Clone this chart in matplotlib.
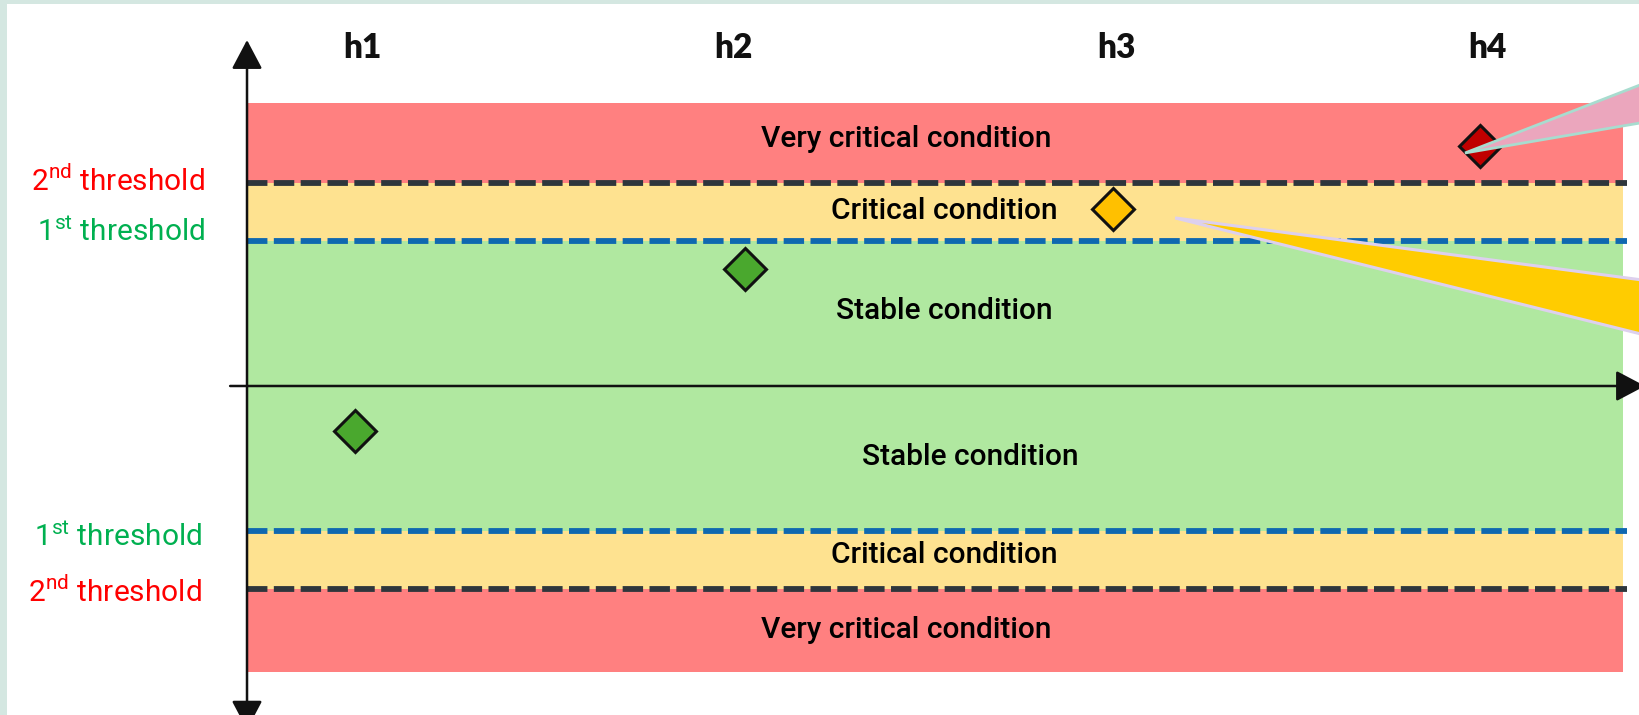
import matplotlib
matplotlib.use("Agg")
import matplotlib.pyplot as plt
from matplotlib.patches import Polygon, Rectangle

# hours along the time axis
hours = ["h1", "h2", "h3", "h4"]
hour_label_x = [1.02, 2.01, 3.03, 4.02]

# observed deviation at each hour
obs_x = [1.0, 2.04, 3.02, 4.0]
obs_y = [-0.31, 0.81, 1.22, 1.655]
obs_colors = ["#4aa82e", "#4aa82e", "#ffc000", "#c00000"]

# thresholds (symmetric) and band limits
first_thr = 1.0
second_thr = 1.4
band_top = 1.95
band_bottom = -1.97

band_names = ["Very critical condition", "Critical condition", "Stable condition",
              "Stable condition", "Critical condition", "Very critical condition"]
band_label_x = [2.47, 2.57, 2.57, 2.64, 2.57, 2.47]
band_label_y = [1.70, 1.21, 0.52, -0.49, -1.166, -1.683]

# callout tails coming from outside the picture: tip, upper base, lower base
pink_tail = [(3.96, 1.607), (4.59, 2.24), (4.59, 1.886)]
yellow_tail = [(3.187, 1.159), (4.59, 0.677), (4.59, 0.255)]

RED = "#ff8080"
YELLOW = "#fee290"
GREEN = "#b0e8a0"

plt.rcParams["mathtext.fontset"] = "custom"
plt.rcParams["mathtext.rm"] = "Roboto"

fig = plt.figure(figsize=(16.39, 7.15), dpi=100)
ax = fig.add_axes([0, 0, 1, 1])
ax.set_xlim(0.0533, 4.424)
ax.set_ylim(-2.269, 2.662)
ax.axis("off")

x0, x1 = 0.712, 4.381

# coloured bands
bands = [(second_thr, band_top, RED), (first_thr, second_thr, YELLOW),
         (-first_thr, first_thr, GREEN), (-second_thr, -first_thr, YELLOW),
         (band_bottom, -second_thr, RED)]
for lo, hi, c in bands:
    ax.fill_between([x0, x1], lo, hi, color=c, lw=0, zorder=1)

# threshold lines
for y in (first_thr, -first_thr):
    ax.plot([x0, x1 + 0.01], [y, y], color="#0f68b0", lw=4.2, dashes=(3.5, 1.1), zorder=2)
for y in (second_thr, -second_thr):
    ax.plot([x0, x1 + 0.01], [y, y], color="#2e363c", lw=4.2, dashes=(3.5, 1.1), zorder=2)

# axes with arrows
arrow_kw = dict(mutation_scale=10, lw=1.8, color="#111111", shrinkA=0, shrinkB=0)
ax.annotate("", xy=(4.44, 0), xytext=(0.667, 0), annotation_clip=False,
            arrowprops=dict(arrowstyle="-|>,head_length=1.8,head_width=0.95", **arrow_kw),
            zorder=3)
ax.annotate("", xy=(x0, 2.386), xytext=(x0, -2.37), annotation_clip=False,
            arrowprops=dict(arrowstyle="<|-|>,head_length=1.8,head_width=0.95", **arrow_kw),
            zorder=3)

# observations
for x, y, c in zip(obs_x, obs_y, obs_colors):
    ax.plot(x, y, marker="D", ms=21, mfc=c, mec="#111111", mew=2.2, zorder=4)

# hour labels
for x, h in zip(hour_label_x, hours):
    ax.text(x, 2.33, h, ha="center", va="center", fontsize=24,
            fontweight="heavy", family="Lato", color="#111111")

# band labels
for x, y, t in zip(band_label_x, band_label_y, band_names):
    ax.text(x, y, t, ha="center", va="center", fontsize=21.5, family="Roboto",
            fontweight="medium", color="black", zorder=3)

# threshold labels
lab_x = 0.6
thr_kw = dict(ha="right", va="center", fontsize=21.5, family="Roboto")
ax.text(lab_x, second_thr + 0.01, "2$^{\\mathrm{nd}}$ threshold", color="#ff0000", **thr_kw)
ax.text(lab_x, first_thr + 0.06, "1$^{\\mathrm{st}}$ threshold", color="#00b050", **thr_kw)
ax.text(lab_x - 0.008, -first_thr - 0.04, "1$^{\\mathrm{st}}$ threshold", color="#00b050", **thr_kw)
ax.text(lab_x - 0.008, -second_thr - 0.02, "2$^{\\mathrm{nd}}$ threshold", color="#ff0000", **thr_kw)

# callout tails
ax.add_patch(Polygon(pink_tail, closed=True, fc="#eba6bd", ec="#a8dccf", lw=2, zorder=5))
ax.add_patch(Polygon(yellow_tail, closed=True, fc="#ffcc00", ec="#ddd0ee", lw=2.2, zorder=5))

# light frame on the left and top
fig.patches.append(Rectangle((0, 0), 7 / 1639, 1, transform=fig.transFigure,
                             fc="#d4e7e1", ec="none", zorder=10))
fig.patches.append(Rectangle((0, 1 - 4 / 715), 1, 4 / 715, transform=fig.transFigure,
                             fc="#d4e7e1", ec="none", zorder=10))

fig.savefig("out.png", dpi=100)
